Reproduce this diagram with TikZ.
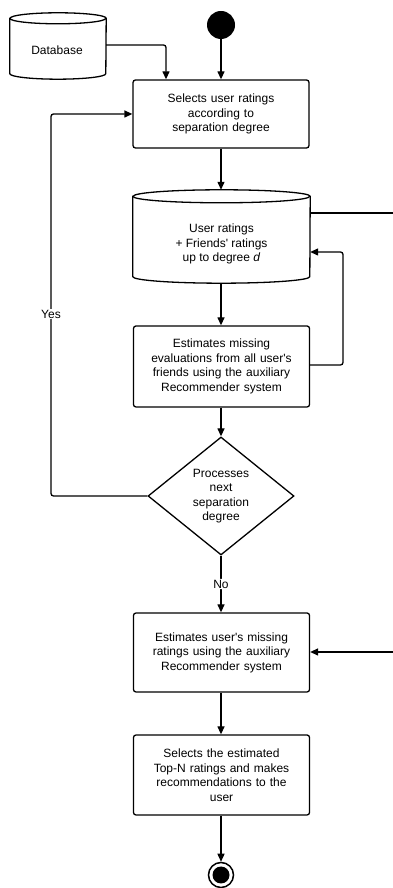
\documentclass[tikz,border=0pt]{standalone}
\usepackage{fontspec}
\setmainfont{Liberation Sans}
\usetikzlibrary{arrows.meta,shapes.geometric}

% Draws a drum (cylinder) outline around a plain rectangular node
\newcommand{\drawdrum}[3]{% node name, half width, ellipse y-radius
  \path[fill=white,draw=black,line width=1.3pt]
    ([yshift=-#3]#1.north west) -- ([yshift=#3]#1.south west)
    arc[start angle=180,end angle=360,x radius=#2,y radius=#3]
    -- ([yshift=-#3]#1.north east)
    arc[start angle=0,end angle=180,x radius=#2,y radius=#3] -- cycle;
  \draw[line width=1.3pt] ([yshift=-#3]#1.north west)
    arc[start angle=180,end angle=360,x radius=#2,y radius=#3];
}

\begin{document}
\begin{tikzpicture}[x=1pt,y=1pt,
  font=\fontsize{12}{14.5}\selectfont,
  ln/.style={line width=1.3pt,draw=black},
  arr/.style={ln,-{Triangle[length=8pt,width=7pt]},rounded corners=2.5pt},
  plain/.style={ln,rounded corners=2.5pt},
  stepbox/.style={ln,rectangle,rounded corners=2.5pt,minimum width=176pt,
    text width=166pt,align=center,inner sep=0pt},
  drumbox/.style={rectangle,inner sep=0pt},
  decide/.style={ln,diamond,minimum width=146pt,minimum height=118pt,
    inner sep=0pt,align=center},
  lbl/.style={fill=white,inner sep=1pt}]
\useasboundingbox (0,0) rectangle (393,888);

% start and end markers
\node[circle,fill=black,minimum size=28pt,inner sep=0pt] (start) at (221,863) {};
\node[circle,draw=black,line width=1.5pt,minimum size=25pt,inner sep=0pt] (finish) at (221,13) {};
\fill (finish.center) circle (8.5pt);

% database drum
\node[drumbox,minimum width=96pt,minimum height=66pt] (db) at (58,842) {};
\drawdrum{db}{48pt}{5.5pt}
\node at (57,838) {Database};

% ratings drum
\node[drumbox,minimum width=177pt,minimum height=93pt] (ratings) at (221.5,651.5) {};
\drawdrum{ratings}{88.5pt}{6.5pt}
\node[align=center] (ratingstext) at (221.5,644)
  {User ratings\\+ Friends\textquotesingle\ ratings\\up to degree \textit{d}};

% process steps
\node[stepbox,minimum height=68pt] (select) at (221,774)
  {Selects user ratings\\according to\\separation degree};
\node[stepbox,minimum height=81pt] (friends) at (221.5,521.5)
  {Estimates missing\\evaluations from all user\textquotesingle s\\friends using the auxiliary\\Recommender system};
\node[decide] (next) at (221,392)
  {Processes\\next\\separation\\degree};
\node[stepbox,minimum height=79pt] (userest) at (221.5,235.5)
  {Estimates user\textquotesingle s missing\\ratings using the auxiliary\\Recommender system};
\node[stepbox,minimum height=80pt] (topn) at (221.5,113)
  {Selects the estimated\\Top-N ratings and makes\\recommendations to the\\user};

% outside ends of the open connectors
\coordinate (outA) at (393,675);
\coordinate (outB) at (393,236);

% connectors
\draw[arr] (db.east |- 0,843) -| (166,0 |- select.north);
\draw[arr] (start) -- (select.north -| start);
\draw[arr] (select.south -| start) -- (ratings.north -| start);
\draw[plain] (ratings.east |- outA) -- (outA);
\draw[arr] (ratings.south -| start) -- (friends.north -| start);
\draw[arr] (friends.east |- 0,523) -| (343,636) -- (ratings.east |- 0,636);
\draw[arr] (friends.south -| start) -- (next.north);
\draw[arr] (next.west) -| (51,774) -- (select.west);
\node[lbl] at (51,574) {Yes};
\draw[arr] (next.south) -- (userest.north -| next.south)
  node[lbl,pos=0.5] {No};
\draw[arr] (outB) -- (userest.east |- outB);
\draw[arr] (userest.south -| start) -- (topn.north -| start);
\draw[arr] (topn.south -| start) -- (finish.north);
\end{tikzpicture}
\end{document}
